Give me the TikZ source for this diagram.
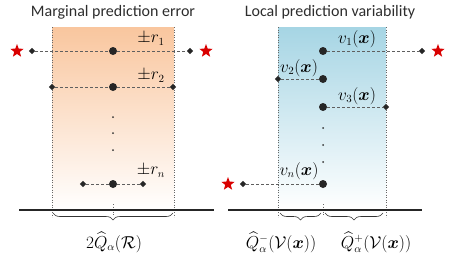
\documentclass[tikz,border=0pt]{standalone}
\usepackage{amsmath,amssymb}
\usepackage{fontspec}
\setmainfont{Carlito}
\usetikzlibrary{shapes.geometric,decorations.pathreplacing}
\definecolor{orgtop}{RGB}{249,198,158}
\definecolor{bluetop}{RGB}{166,213,228}
\definecolor{dashgray}{RGB}{95,95,95}
\definecolor{titlegray}{RGB}{45,45,45}
\begin{document}
\begin{tikzpicture}[x=1pt,y=-1pt,
  bigdot/.style={circle,fill=black!85,inner sep=0pt,minimum size=8pt},
  smalldia/.style={diamond,fill=black!85,inner sep=0pt,minimum size=6.5pt},
  redstar/.style={star,star points=5,star point ratio=2.4,fill=red!85!black,draw=none,inner sep=0pt,minimum size=14pt},
  tinydot/.style={circle,fill=black!80,inner sep=0pt,minimum size=2pt},
  dline/.style={dashgray,dash pattern=on 3pt off 2pt,line width=0.9pt},
  border/.style={black!60,dotted,line width=0.5pt},
  base/.style={black!85,line width=1.2pt},
  brc/.style={decorate,decoration={brace,mirror,amplitude=7pt},line width=0.6pt,black!80},
  lbl/.style={font=\fontsize{16}{19}\selectfont,inner sep=0pt},
  ttl/.style={font=\fontsize{16}{19}\selectfont,inner sep=0pt,text=titlegray}]
\useasboundingbox (0,0) rectangle (450,257);
% ---------- left panel ----------
\shade[top color=orgtop,bottom color=white] (52,27) rectangle (174,210);
\draw[border] (52,27) -- (52,217);
\draw[border] (174,27) -- (174,217);
\draw[border] (113,204) -- (113,216);
\draw[base] (19,210) -- (214,210);
\node[ttl] (t1) at (113,12) {Marginal prediction error};
% row 1
\node[bigdot] (c1) at (113,51) {};
\node[smalldia] (l1) at (32,51) {};
\node[smalldia] (r1) at (190,51) {};
\node[redstar] (sl1) at (17,51) {};
\node[redstar] (sr1) at (206,51) {};
\draw[dline] (l1) -- (c1);
\draw[dline] (c1) -- (r1);
\node[lbl] (lr1) at (151,39) {$\pm r_1$};
% row 2
\node[bigdot] (c2) at (113,87) {};
\node[smalldia] (l2) at (52,87) {};
\node[smalldia] (r2) at (173,87) {};
\draw[dline] (l2) -- (c2);
\draw[dline] (c2) -- (r2);
\node[lbl] (lr2) at (151,76) {$\pm r_2$};
% dots
\node[tinydot] (d1) at (113,117) {};
\node[tinydot] (d2) at (113,133) {};
\node[tinydot] (d3) at (113,150) {};
% row n
\node[bigdot] (cn) at (113,184) {};
\node[smalldia] (ln) at (83,184) {};
\node[smalldia] (rn) at (143,184) {};
\draw[dline] (ln) -- (cn);
\draw[dline] (cn) -- (rn);
\node[lbl] (lrn) at (151,171) {$\pm r_n$};
% brace
\coordinate (bl) at (53,213);
\coordinate (br) at (173,213);
\draw[brc] (bl) -- (br);
\node[lbl] (q1) at (114,242) {$2\widehat{Q}_{\alpha}(\mathcal{R})$};
% ---------- right panel ----------
\shade[top color=bluetop,bottom color=white] (278,27) rectangle (386,210);
\draw[border] (278,27) -- (278,217);
\draw[border] (386,27) -- (386,217);
\draw[border] (323,204) -- (323,216);
\draw[base] (228,210) -- (422,210);
\node[ttl] (t2) at (330,12) {Local prediction variability};
% row 1
\node[bigdot] (v1) at (323,51) {};
\node[smalldia] (vr1) at (422,51) {};
\node[redstar] (vs1) at (438,51) {};
\draw[dline] (v1) -- (vr1);
\node[lbl] (lv1) at (357,39) {$v_1(\boldsymbol{x})$};
% row 2
\node[bigdot] (v2) at (323,79) {};
\node[smalldia] (vl2) at (278,79) {};
\draw[dline] (vl2) -- (v2);
\node[lbl] (lv2) at (299,68) {$v_2(\boldsymbol{x})$};
% row 3
\node[bigdot] (v3) at (323,107) {};
\node[smalldia] (vr3) at (386,107) {};
\draw[dline] (v3) -- (vr3);
\node[lbl] (lv3) at (357,96) {$v_3(\boldsymbol{x})$};
% dots
\node[tinydot] (e1) at (323,128) {};
\node[tinydot] (e2) at (323,145) {};
\node[tinydot] (e3) at (323,162) {};
% row n
\node[bigdot] (vn) at (323,184) {};
\node[smalldia] (vln) at (243,184) {};
\node[redstar] (vsn) at (228,184) {};
\draw[dline] (vln) -- (vn);
\node[lbl] (lvn) at (299,171) {$v_n(\boldsymbol{x})$};
% braces
\coordinate (b1l) at (280,213);
\coordinate (b1r) at (321,213);
\coordinate (b2l) at (325,213);
\coordinate (b2r) at (383,213);
\draw[brc] (b1l) -- (b1r);
\draw[brc] (b2l) -- (b2r);
\node[lbl] (qm) at (281,242) {$\widehat{Q}^{-}_{\alpha}(\mathcal{V}(\boldsymbol{x}))$};
\node[lbl] (qp) at (376,242) {$\widehat{Q}^{+}_{\alpha}(\mathcal{V}(\boldsymbol{x}))$};
\end{tikzpicture}
\end{document}
